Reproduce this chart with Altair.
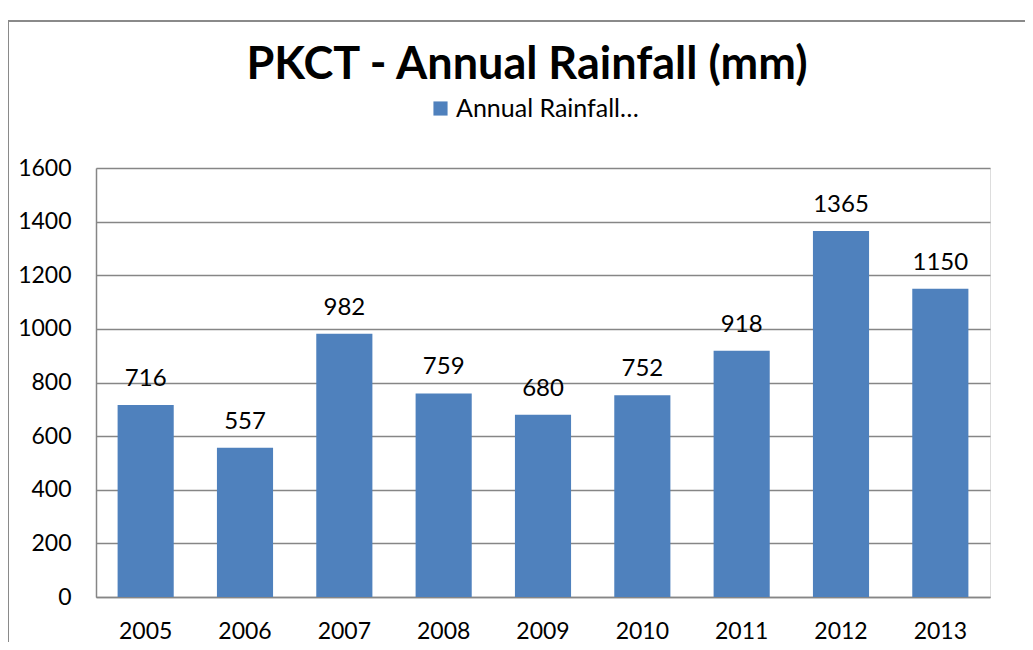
import altair as alt
import pandas as pd

years = ["2005", "2006", "2007", "2008", "2009", "2010", "2011", "2012", "2013"]
rainfall = [716, 557, 982, 759, 680, 752, 918, 1365, 1150]
series_name = "Annual Rainfall…"
y_ticks = [0, 200, 400, 600, 800, 1000, 1200, 1400, 1600]
chart_title = "PKCT - Annual Rainfall (mm)"

df = pd.DataFrame({"year": years, "rainfall": rainfall, "series": [series_name] * len(years)})

FONT = "Lato"
GRAY = "#868686"
BLUE = "#4F81BD"

x_enc = alt.X(
    "year:N",
    sort=years,
    scale=alt.Scale(paddingInner=0.435, paddingOuter=0.2175),
    axis=alt.Axis(
        title=None, labelAngle=0, labelFont=FONT, labelFontSize=23, labelColor="black",
        labelPadding=23, ticks=False, domainColor=GRAY, domainWidth=1.5, grid=False,
    ),
)
y_enc = alt.Y(
    "rainfall:Q",
    scale=alt.Scale(domain=[0, 1600], nice=False),
    axis=alt.Axis(
        title=None, values=y_ticks, format="d", labelFont=FONT, labelFontSize=23,
        labelColor="black", labelPadding=25, ticks=False, domainColor=GRAY,
        domainWidth=1.5, gridColor=GRAY, gridWidth=1.5,
    ),
)

base = alt.Chart(df)

bars = base.mark_bar().encode(
    x=x_enc,
    y=y_enc,
    color=alt.Color(
        "series:N",
        scale=alt.Scale(range=[BLUE]),
        legend=alt.Legend(
            title=None, orient="none", legendX=332, legendY=-72,
            symbolType="square", symbolSize=200, symbolStrokeWidth=0,
            labelFont=FONT, labelFontSize=25, labelColor="black", labelLimit=400,
            labelOffset=3,
        ),
    ),
)

labels = base.mark_text(dy=-19, baseline="alphabetic", font=FONT, fontSize=24, color="black").encode(
    x=alt.X("year:N", sort=years),
    y=alt.Y("rainfall:Q"),
    text=alt.Text("rainfall:Q"),
)

frame = alt.Chart(pd.DataFrame({"k": [0]})).mark_rect(
    filled=False, stroke="#8a8a8a", strokeWidth=2
).encode(
    x=alt.value(-88), x2=alt.value(960), y=alt.value(-147), y2=alt.value(520)
)

chart = alt.layer(frame, bars, labels).properties(
    width=894,
    height=429,
    title=alt.TitleParams(
        chart_title, font=FONT, fontSize=45, fontWeight="bold", color="black",
        anchor="middle", baseline="alphabetic", dx=-16, offset=-104,
    ),
    autosize=alt.AutoSizeParams(type="none"),
    padding={"left": 88, "top": 160, "right": 35, "bottom": 45},
).configure_view(stroke=None).configure(background="white")

chart.save("out.html", embed_options={"renderer": "svg", "actions": False})
